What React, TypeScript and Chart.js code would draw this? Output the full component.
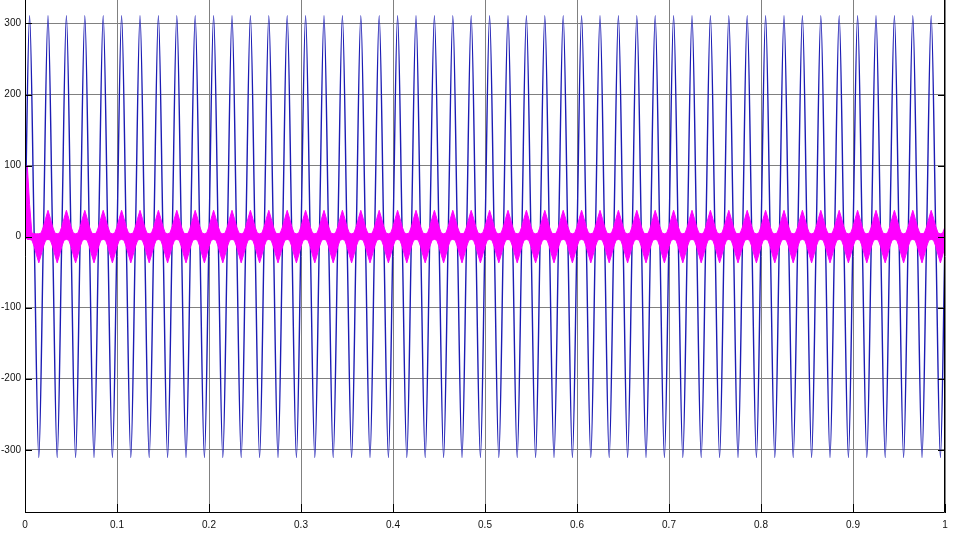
import React, { useEffect, useRef } from "react";
import { Chart, registerables } from "chart.js";
Chart.register(...registerables);

// Axes
const X_MIN = 0;
const X_MAX = 1;
const Y_MIN = -389;
const Y_MAX = 333;
const xTicks = [0, 0.1, 0.2, 0.3, 0.4, 0.5, 0.6, 0.7, 0.8, 0.9, 1];
const yTicks = [-300, -200, -100, 0, 100, 200, 300];

// Blue voltage: samples every 0.005 s (zero crossings and peaks) from t = 0
const BLUE_STEP = 0.005;
const blueValues = [
  0, 311, 0, -311, 0, 311, 0, -311, 0, 311, 0, -311, 0, 311, 0, -311, 0, 311, 0, -311,
  0, 311, 0, -311, 0, 311, 0, -311, 0, 311, 0, -311, 0, 311, 0, -311, 0, 311, 0, -311,
  0, 311, 0, -311, 0, 311, 0, -311, 0, 311, 0, -311, 0, 311, 0, -311, 0, 311, 0, -311,
  0, 311, 0, -311, 0, 311, 0, -311, 0, 311, 0, -311, 0, 311, 0, -311, 0, 311, 0, -311,
  0, 311, 0, -311, 0, 311, 0, -311, 0, 311, 0, -311, 0, 311, 0, -311, 0, 311, 0, -311,
  0, 311, 0, -311, 0, 311, 0, -311, 0, 311, 0, -311, 0, 311, 0, -311, 0, 311, 0, -311,
  0, 311, 0, -311, 0, 311, 0, -311, 0, 311, 0, -311, 0, 311, 0, -311, 0, 311, 0, -311,
  0, 311, 0, -311, 0, 311, 0, -311, 0, 311, 0, -311, 0, 311, 0, -311, 0, 311, 0, -311,
  0, 311, 0, -311, 0, 311, 0, -311, 0, 311, 0, -311, 0, 311, 0, -311, 0, 311, 0, -311,
  0, 311, 0, -311, 0, 311, 0, -311, 0, 311, 0, -311, 0, 311, 0, -311, 0, 311, 0, -311,
  0,
];

// Magenta current (high-frequency ripple): upper and lower envelopes, samples every 0.0025 s from t = 0
const MAG_STEP = 0.0025;
const magentaUpper = [
  0, 100, 45, 5, 4, 4, 4, 5,
  14, 26, 37, 26, 14, 5, 4, 5, 14, 26, 37, 26, 14, 5, 4, 5, 14, 26, 37, 26, 14, 5, 4, 5, 14, 26, 37, 26, 14, 5, 4, 5,
  14, 26, 37, 26, 14, 5, 4, 5, 14, 26, 37, 26, 14, 5, 4, 5, 14, 26, 37, 26, 14, 5, 4, 5, 14, 26, 37, 26, 14, 5, 4, 5,
  14, 26, 37, 26, 14, 5, 4, 5, 14, 26, 37, 26, 14, 5, 4, 5, 14, 26, 37, 26, 14, 5, 4, 5, 14, 26, 37, 26, 14, 5, 4, 5,
  14, 26, 37, 26, 14, 5, 4, 5, 14, 26, 37, 26, 14, 5, 4, 5, 14, 26, 37, 26, 14, 5, 4, 5, 14, 26, 37, 26, 14, 5, 4, 5,
  14, 26, 37, 26, 14, 5, 4, 5, 14, 26, 37, 26, 14, 5, 4, 5, 14, 26, 37, 26, 14, 5, 4, 5, 14, 26, 37, 26, 14, 5, 4, 5,
  14, 26, 37, 26, 14, 5, 4, 5, 14, 26, 37, 26, 14, 5, 4, 5, 14, 26, 37, 26, 14, 5, 4, 5, 14, 26, 37, 26, 14, 5, 4, 5,
  14, 26, 37, 26, 14, 5, 4, 5, 14, 26, 37, 26, 14, 5, 4, 5, 14, 26, 37, 26, 14, 5, 4, 5, 14, 26, 37, 26, 14, 5, 4, 5,
  14, 26, 37, 26, 14, 5, 4, 5, 14, 26, 37, 26, 14, 5, 4, 5, 14, 26, 37, 26, 14, 5, 4, 5, 14, 26, 37, 26, 14, 5, 4, 5,
  14, 26, 37, 26, 14, 5, 4, 5, 14, 26, 37, 26, 14, 5, 4, 5, 14, 26, 37, 26, 14, 5, 4, 5, 14, 26, 37, 26, 14, 5, 4, 5,
  14, 26, 37, 26, 14, 5, 4, 5, 14, 26, 37, 26, 14, 5, 4, 5, 14, 26, 37, 26, 14, 5, 4, 5, 14, 26, 37, 26, 14, 5, 4, 5,
  14, 26, 37, 26, 14, 5, 4, 5, 14, 26, 37, 26, 14, 5, 4, 5, 14, 26, 37, 26, 14, 5, 4, 5, 14, 26, 37, 26, 14, 5, 4, 5,
  14, 26, 37, 26, 14, 5, 4, 5, 14, 26, 37, 26, 14, 5, 4, 5, 14, 26, 37, 26, 14, 5, 4, 5, 14, 26, 37, 26, 14, 5, 4, 5,
  14, 26, 37, 26, 14, 5, 4, 5,
  14,
];
const magentaLower = [
  0, -4, -4, -5, -14, -26, -37, -26,
  -14, -5, -4, -5, -14, -26, -37, -26, -14, -5, -4, -5, -14, -26, -37, -26, -14, -5, -4, -5, -14, -26, -37, -26, -14, -5, -4, -5, -14, -26, -37, -26,
  -14, -5, -4, -5, -14, -26, -37, -26, -14, -5, -4, -5, -14, -26, -37, -26, -14, -5, -4, -5, -14, -26, -37, -26, -14, -5, -4, -5, -14, -26, -37, -26,
  -14, -5, -4, -5, -14, -26, -37, -26, -14, -5, -4, -5, -14, -26, -37, -26, -14, -5, -4, -5, -14, -26, -37, -26, -14, -5, -4, -5, -14, -26, -37, -26,
  -14, -5, -4, -5, -14, -26, -37, -26, -14, -5, -4, -5, -14, -26, -37, -26, -14, -5, -4, -5, -14, -26, -37, -26, -14, -5, -4, -5, -14, -26, -37, -26,
  -14, -5, -4, -5, -14, -26, -37, -26, -14, -5, -4, -5, -14, -26, -37, -26, -14, -5, -4, -5, -14, -26, -37, -26, -14, -5, -4, -5, -14, -26, -37, -26,
  -14, -5, -4, -5, -14, -26, -37, -26, -14, -5, -4, -5, -14, -26, -37, -26, -14, -5, -4, -5, -14, -26, -37, -26, -14, -5, -4, -5, -14, -26, -37, -26,
  -14, -5, -4, -5, -14, -26, -37, -26, -14, -5, -4, -5, -14, -26, -37, -26, -14, -5, -4, -5, -14, -26, -37, -26, -14, -5, -4, -5, -14, -26, -37, -26,
  -14, -5, -4, -5, -14, -26, -37, -26, -14, -5, -4, -5, -14, -26, -37, -26, -14, -5, -4, -5, -14, -26, -37, -26, -14, -5, -4, -5, -14, -26, -37, -26,
  -14, -5, -4, -5, -14, -26, -37, -26, -14, -5, -4, -5, -14, -26, -37, -26, -14, -5, -4, -5, -14, -26, -37, -26, -14, -5, -4, -5, -14, -26, -37, -26,
  -14, -5, -4, -5, -14, -26, -37, -26, -14, -5, -4, -5, -14, -26, -37, -26, -14, -5, -4, -5, -14, -26, -37, -26, -14, -5, -4, -5, -14, -26, -37, -26,
  -14, -5, -4, -5, -14, -26, -37, -26, -14, -5, -4, -5, -14, -26, -37, -26, -14, -5, -4, -5, -14, -26, -37, -26, -14, -5, -4, -5, -14, -26, -37, -26,
  -14, -5, -4, -5, -14, -26, -37, -26, -14, -5, -4, -5, -14, -26, -37, -26, -14, -5, -4, -5, -14, -26, -37, -26, -14, -5, -4, -5, -14, -26, -37, -26,
  -14, -5, -4, -5, -14, -26, -37, -26,
  -14,
];

const FONT = { family: "'Liberation Sans', Arial, sans-serif", size: 10 };

const framePlugin = {
  id: "scopeFrame",
  afterDatasetsDraw(chart: any) {
    const { ctx, chartArea: a, scales } = chart;
    const x = scales.x;
    const y = scales.y;
    ctx.save();
    ctx.strokeStyle = "#000";
    ctx.lineWidth = 1;
    ctx.beginPath();
    ctx.moveTo(a.left + 0.5, a.top);
    ctx.lineTo(a.left + 0.5, a.bottom - 0.5);
    ctx.lineTo(a.right - 0.5, a.bottom - 0.5);
    ctx.lineTo(a.right - 0.5, a.top);
    yTicks.forEach((v) => {
      const py = Math.round(y.getPixelForValue(v)) + 0.5;
      ctx.moveTo(a.left, py);
      ctx.lineTo(a.left + 7, py);
      ctx.moveTo(a.right, py);
      ctx.lineTo(a.right - 7, py);
    });
    xTicks.forEach((v) => {
      const px = Math.round(x.getPixelForValue(v)) + 0.5;
      ctx.moveTo(px, a.bottom);
      ctx.lineTo(px, a.bottom - 9);
    });
    ctx.stroke();
    ctx.restore();
  },
};

export default function App() {
  const ref = useRef<HTMLCanvasElement | null>(null);

  useEffect(() => {
    document.body.style.margin = "0";
    const canvas = ref.current;
    if (!canvas) return;

    const blueData = blueValues.map((v, i) => ({ x: i * BLUE_STEP, y: v }));
    const upperData = magentaUpper.map((v, i) => ({ x: i * MAG_STEP, y: v }));
    const lowerData = magentaLower.map((v, i) => ({ x: i * MAG_STEP, y: v }));

    const chart = new Chart(canvas, {
      type: "line",
      data: {
        datasets: [
          {
            label: "Current (upper)",
            data: upperData,
            borderColor: "#ff00ff",
            backgroundColor: "#ff00ff",
            borderWidth: 1,
            pointRadius: 0,
            fill: "+1",
            tension: 0,
          },
          {
            label: "Current (lower)",
            data: lowerData,
            borderColor: "#ff00ff",
            backgroundColor: "#ff00ff",
            borderWidth: 1,
            pointRadius: 0,
            fill: false,
            tension: 0,
          },
          {
            label: "Voltage",
            data: blueData,
            borderColor: "#1c1cb4",
            borderWidth: 1.4,
            pointRadius: 0,
            fill: false,
            cubicInterpolationMode: "monotone",
          },
        ],
      },
      options: {
        animation: false,
        responsive: false,
        devicePixelRatio: 1,
        events: [],
        layout: { autoPadding: false, padding: { left: 0, right: 14, top: 0, bottom: 0 } },
        plugins: { legend: { display: false }, tooltip: { enabled: false } },
        scales: {
          x: {
            type: "linear",
            min: X_MIN,
            max: X_MAX,
            afterBuildTicks: (s: any) => {
              s.ticks = xTicks.map((v) => ({ value: v }));
            },
            afterFit: (s: any) => {
              s.height = 21;
              s.paddingLeft = 0;
              s.paddingRight = 0;
            },
            ticks: {
              color: "#111",
              font: FONT,
              padding: 6,
              maxRotation: 0,
              autoSkip: false,
              callback: (v: any) => String(Number(Number(v).toFixed(1))),
            },
            grid: { color: "#808080", lineWidth: 1, drawTicks: false },
            border: { display: false },
          },
          y: {
            type: "linear",
            min: Y_MIN,
            max: Y_MAX,
            afterBuildTicks: (s: any) => {
              s.ticks = yTicks.map((v) => ({ value: v }));
            },
            afterFit: (s: any) => {
              s.width = 25;
              s.paddingTop = 0;
              s.paddingBottom = 0;
            },
            ticks: {
              color: "#111",
              font: FONT,
              padding: 4,
              autoSkip: false,
            },
            grid: { color: "#808080", lineWidth: 1, drawTicks: false },
            border: { display: false },
          },
        },
      },
      plugins: [framePlugin],
    });

    return () => chart.destroy();
  }, []);

  return (
    <div style={{ position: "absolute", left: 0, top: 0, width: 959, height: 534 }}>
      <canvas ref={ref} width={959} height={534} style={{ display: "block", width: 959, height: 534 }} />
    </div>
  );
}
